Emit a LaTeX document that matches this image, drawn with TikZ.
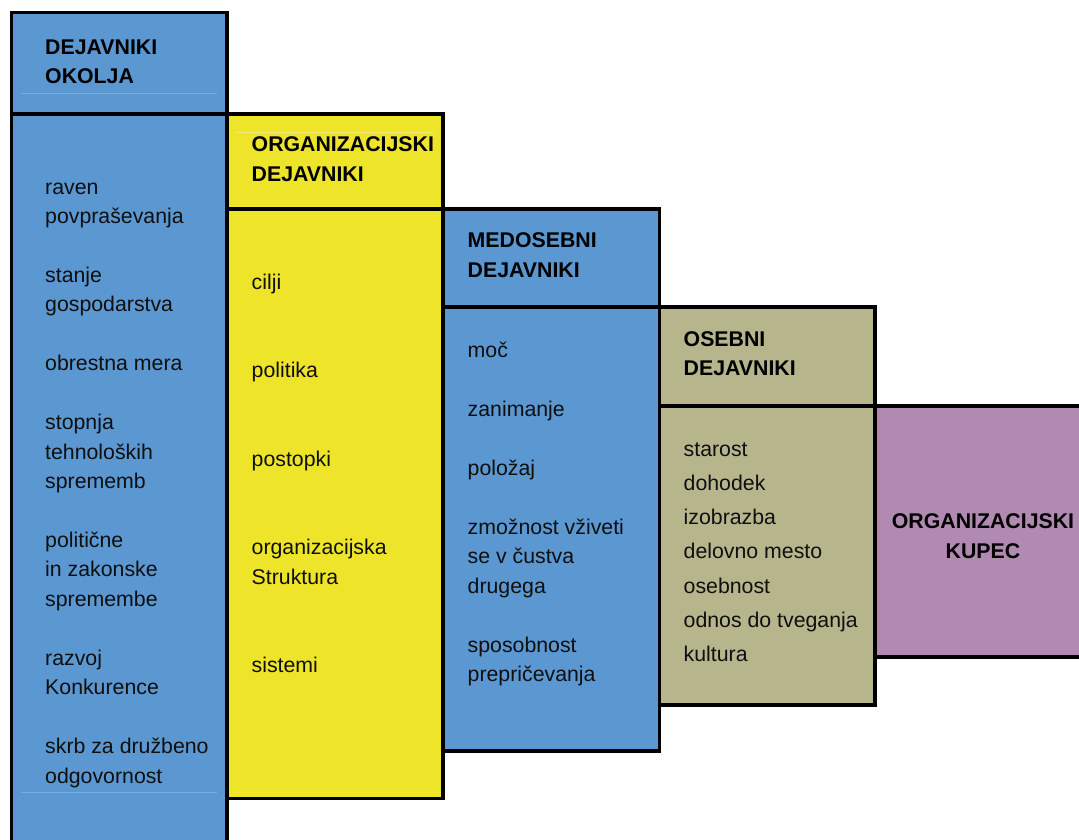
\documentclass[tikz,border=0pt]{standalone}
\usepackage{fontspec}
\setmainfont{Liberation Sans}
\definecolor{bblue}{RGB}{91,151,209}
\definecolor{byellow}{RGB}{238,228,42}
\definecolor{bkhaki}{RGB}{183,181,140}
\definecolor{bpurple}{RGB}{177,138,177}
\definecolor{faintblue}{RGB}{120,172,222}
\definecolor{faintyellow}{RGB}{244,238,120}
\definecolor{inktext}{RGB}{15,15,15}
\begin{document}
\begin{tikzpicture}[x=1pt,y=-1pt,
  box/.style={line width=3.2pt, draw=black},
  txt/.style={anchor=base west, inner sep=0pt, text=inktext, font=\fontsize{21.3}{29.45}\selectfont},
  hdr/.style={anchor=base west, inner sep=0pt, text=black, font=\bfseries\fontsize{21.3}{29.45}\selectfont},
  hdrc/.style={anchor=base, inner sep=0pt, text=black, font=\bfseries\fontsize{21.3}{29.45}\selectfont},
  faint/.style={line width=0.8pt}]
\useasboundingbox (0,0) rectangle (1079,839);
\clip (0,0) rectangle (1079,839);
% boxes
\draw[box, fill=bblue] (11.5,12.5) rectangle (227,114);
\draw[box, fill=bblue] (11.5,114) rectangle (227,860);
\draw[box, fill=byellow] (227,114) rectangle (443,209);
\draw[box, fill=byellow] (227,209) rectangle (443,798.5);
\draw[box, fill=bblue] (443,209) rectangle (659.5,307);
\draw[box, fill=bblue] (443,307) rectangle (659.5,751);
\draw[box, fill=bkhaki] (659.5,307) rectangle (875,406);
\draw[box, fill=bkhaki] (659.5,406) rectangle (875,705);
\draw[box, fill=bpurple] (875,406) rectangle (1100,657);
% faint text-box edges
\draw[faint, faintblue] (20.5,93) -- (217,93);
\draw[faint, faintblue] (20.5,792.7) -- (217,792.7);
\draw[faint, faintyellow] (236.5,132) -- (433,132);
% headers
\node[hdr] (h1a) at (45,54) {DEJAVNIKI};
\node[hdr] (h1b) at (45,83.4) {OKOLJA};
\node[hdr] (h2a) at (251.5,151.7) {ORGANIZACIJSKI};
\node[hdr] (h2b) at (251.5,181) {DEJAVNIKI};
\node[hdr] (h3a) at (467.5,247.7) {MEDOSEBNI};
\node[hdr] (h3b) at (467.5,277.5) {DEJAVNIKI};
\node[hdr] (h4a) at (683.5,346) {OSEBNI};
\node[hdr] (h4b) at (683.5,375.5) {DEJAVNIKI};
\node[hdrc] (h5a) at (983,528.3) {ORGANIZACIJSKI};
\node[hdrc] (h5b) at (983,558.3) {KUPEC};
% column 1
\foreach \t/\yy [count=\i] in {raven/194, povpraševanja/223.45, stanje/282.35, gospodarstva/311.8, obrestna mera/370.7, stopnja/429.6, tehnoloških/459.05, sprememb/488.5, politične/547.4, in zakonske/576.85, spremembe/606.3, razvoj/665.2, Konkurence/694.65, skrb za družbeno/753.55, odgovornost/783}
  \node[txt, name=ok\i] at (45,\yy) {\t};
% column 2
\foreach \t/\yy [count=\i] in {cilji/289.5, politika/377.85, postopki/466.2, organizacijska/554.55, Struktura/584, sistemi/672.35}
  \node[txt, name=or\i] at (251.5,\yy) {\t};
% column 3
\foreach \t/\yy [count=\i] in {moč/357.5, zanimanje/416.4, položaj/475.3, zmožnost vživeti/534.2, se v čustva/563.65, drugega/593.1, sposobnost/652, prepričevanja/681.45}
  \node[txt, name=me\i] at (467.5,\yy) {\t};
% column 4
\foreach \t/\yy [count=\i] in {starost/456, dohodek/490.3, izobrazba/524.6, delovno mesto/558.9, osebnost/593.2, odnos do tveganja/627.5, kultura/661.8}
  \node[txt, name=os\i] at (683.5,\yy) {\t};
\end{tikzpicture}
\end{document}
